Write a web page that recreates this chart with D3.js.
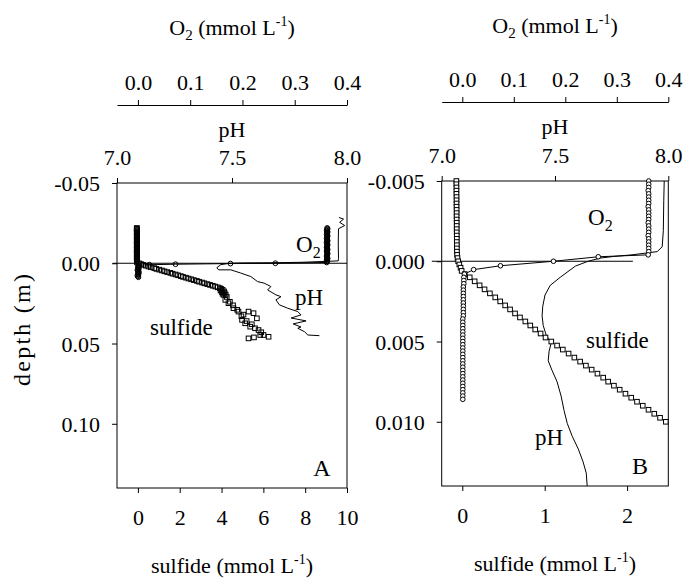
<!DOCTYPE html>
<html><head><meta charset="utf-8">
<script src="https://cdn.jsdelivr.net/npm/d3@7"></script>
<style>
body{margin:0;background:#fff}
text{font-family:"Liberation Serif","Times New Roman",serif;fill:#000}
</style>
</head><body>
<svg id="c" width="697" height="579"></svg>
<script>
// ---------------- tick labels / axes ----------------
const o2Ticks = [0, 0.1, 0.2, 0.3, 0.4];
const pHTicks = [7.0, 7.5, 8.0];
const aSulfTicks = [0, 2, 4, 6, 8, 10];
const bSulfTicks = [0, 1, 2];
const aDepthTicks = [-0.05, 0, 0.05, 0.10];
const bDepthTicks = [-0.005, 0, 0.005, 0.010];

// ---------------- Panel A data (depth in m) ----------------
const aO2Depth = [-0.0220,-0.0215,-0.0210,-0.0205,-0.0200,-0.0195,-0.0190,-0.0185,-0.0180,-0.0175,-0.0170,-0.0165,-0.0160,-0.0155,-0.0150,-0.0145,-0.0140,-0.0135,-0.0130,-0.0125,-0.0120,-0.0115,-0.0110,-0.0105,-0.0100,-0.0095,-0.0090,-0.0085,-0.0080,-0.0075,-0.0070,-0.0065,-0.0060,-0.0055,-0.0050,-0.0045,-0.0040,-0.0035,-0.0030,-0.0025,-0.0020,-0.0015,-0.0010,-0.0005,
  0.0000,0.0002,0.0006,0.0009,
  0.0012,0.0017,0.0022,0.0027,0.0032,0.0037,0.0042,0.0047,0.0052,0.0057,0.0062,0.0067,0.0072,0.0077,0.0082,0.0087];
const aO2 = [0.362,0.363,0.362,0.361,0.362,0.363,0.362,0.362,0.361,0.362,0.363,0.362,0.362,0.361,0.362,0.362,0.363,0.362,0.361,0.362,0.362,0.363,0.362,0.362,0.361,0.362,0.362,0.363,0.362,0.361,0.362,0.362,0.363,0.362,0.362,0.361,0.362,0.362,0.363,0.362,0.361,0.362,0.362,0.361,
  0.263,0.177,0.072,0.022,
  0.002,0.001,0.000,0.001,0.002,0.000,-0.001,0.001,0.000,0.002,0.001,0.000,0.001,-0.001,0.000,0.001];

const aSulfDepth = [-0.0220,-0.0215,-0.0210,-0.0205,-0.0200,-0.0195,-0.0190,-0.0185,-0.0180,-0.0175,-0.0170,-0.0165,-0.0160,-0.0155,-0.0150,-0.0145,-0.0140,-0.0135,-0.0130,-0.0125,-0.0120,-0.0115,-0.0110,-0.0105,-0.0100,-0.0095,-0.0090,-0.0085,-0.0080,-0.0075,-0.0070,-0.0065,-0.0060,-0.0055,-0.0050,-0.0045,-0.0040,-0.0035,-0.0030,-0.0025,-0.0020,-0.0015,-0.0010,-0.0005,
  0.0000,0.0005,0.0010,0.0015,0.0020,0.0025,0.0030,0.0035,0.0040,0.0045,0.0050,0.0055,0.0060,0.0065,0.0070,0.0075,0.0080,0.0085,0.0090,0.0095,0.0100,0.0105,0.0110,0.0115,0.0120,0.0125,0.0130,0.0135,0.0140,0.0145,0.0150,0.0155,0.0160,0.0165,0.0170,0.0175,0.0180,0.0185,0.0190,0.0195,
  0.0197,0.0210,0.0228,0.0240,0.0249,0.0262,0.0280,0.0290,0.0301,0.0301,0.0311,0.0320,0.0330,0.0343,0.0353,0.0360,0.0374,0.0380,0.0395,0.0405,0.0416,0.0430,0.0447,0.0447,0.0458,0.0468,0.0462];
const aSulf = [-0.05,-0.06,-0.05,-0.04,-0.05,-0.06,-0.05,-0.05,-0.04,-0.05,-0.06,-0.05,-0.05,-0.04,-0.05,-0.05,-0.06,-0.05,-0.04,-0.05,-0.05,-0.06,-0.05,-0.05,-0.04,-0.05,-0.05,-0.06,-0.05,-0.04,-0.05,-0.05,-0.06,-0.05,-0.05,-0.04,-0.05,-0.05,-0.06,-0.05,-0.04,-0.05,-0.05,-0.04,
  0.05,0.15,0.25,0.38,0.50,0.62,0.78,0.88,1.02,1.15,1.27,1.40,1.55,1.66,1.80,1.92,2.05,2.16,2.30,2.42,2.55,2.68,2.82,2.93,3.07,3.18,3.32,3.45,3.58,3.70,3.82,3.92,3.98,4.05,3.95,4.12,4.02,4.15,4.05,4.20,
  4.10,4.25,4.18,4.40,4.33,4.55,4.57,4.75,4.81,5.29,5.53,5.05,4.95,5.69,4.98,5.20,5.13,5.45,5.37,5.60,5.77,5.90,6.01,5.85,6.25,5.29,5.55];

const aPHDepth = [-0.0285,-0.0275,-0.0255,-0.0235,-0.0215,-0.0120,-0.0030,-0.0015,-0.0013,-0.0006,-0.0003,-0.0002,0.0000,0.0009,0.0028,0.0041,0.0041,0.0061,0.0083,0.0114,0.0124,0.0145,0.0166,0.0197,0.0208,0.0228,0.0259,0.0280,0.0301,0.0322,0.0341,0.0359,0.0378,0.0397,0.0405,0.0426,0.0447,0.0451];
const aPH = [7.965,7.985,7.968,7.990,7.963,7.962,7.963,7.962,7.931,7.800,7.670,7.540,7.486,7.451,7.434,7.442,7.495,7.538,7.582,7.611,7.640,7.669,7.655,7.691,7.713,7.691,7.706,7.742,7.786,7.800,7.757,7.822,7.766,7.800,7.786,7.815,7.830,7.880];

const aSurface = [-1.2, 10];   // sediment surface line (sulfide units)

// ---------------- Panel B data (depth in m) ----------------
const bO2Depth = [-0.0050,-0.0048,-0.0046,-0.0044,-0.0042,-0.0040,-0.0038,-0.0036,-0.0034,-0.0032,-0.0030,-0.0028,-0.0026,-0.0024,-0.0022,-0.0020,-0.0018,-0.0016,-0.0014,-0.0012,-0.0010,-0.0008,-0.0006,-0.0004,
  -0.00028,0.0000,0.00028,0.00052,
  0.0008,0.0010,0.0012,0.0014,0.0016,0.0018,0.0020,0.0022,0.0024,0.0026,0.0028,0.0030,0.0032,0.0034,0.0036,0.0038,0.0040,0.0042,0.0044,0.0046,0.0048,0.0050,0.0052,0.0054,0.0056,0.0058,0.0060,0.0062,0.0064,0.0066,0.0068,0.0070,0.0072,0.0074,0.0076,0.0078,0.0080,0.0082,0.0084,0.0086];
const bO2 = [0.362,0.362,0.362,0.361,0.362,0.362,0.362,0.362,0.361,0.362,0.362,0.362,0.362,0.361,0.362,0.362,0.362,0.361,0.362,0.362,0.362,0.362,0.362,0.361,
  0.264,0.177,0.074,0.022,
  0.004,0.003,0.003,0.003,0.002,0.002,0.002,0.002,0.002,0.002,0.002,0.002,0.002,0.002,0.001,0.001,0.001,0.001,0.001,0.001,0.001,0.001,0.001,0.001,0.001,0.001,0.001,0.001,0.001,0.001,0.001,0.001,0.001,0.001,0.001,0.001,0.001,0.001,0.001,0.001];

const bSulfDepth = [-0.0050,-0.0048,-0.0046,-0.0044,-0.0042,-0.0040,-0.0038,-0.0036,-0.0034,-0.0032,-0.0030,-0.0028,-0.0026,-0.0024,-0.0022,-0.0020,-0.0018,-0.0016,-0.0014,-0.0012,-0.0010,-0.0008,-0.0006,
  -0.0004,-0.0002,0.0000,0.0002,0.0004,0.0006,0.0008,
  0.00100,0.00125,0.00150,0.00175,0.00200,0.00225,0.00250,0.00275,0.00300,0.00325,0.00350,0.00375,0.00400,0.00425,0.00450,0.00475,0.00500,0.00525,0.00550,0.00575,0.00600,0.00625,0.00650,0.00675,0.00700,0.00725,0.00750,0.00775,0.00800,0.00825,0.00850,0.00875,0.00900,0.00925,0.00950,0.00975,0.01000];
const bSulf = [-0.072,-0.072,-0.071,-0.071,-0.071,-0.070,-0.070,-0.070,-0.070,-0.069,-0.069,-0.069,-0.069,-0.068,-0.068,-0.068,-0.068,-0.067,-0.067,-0.067,-0.066,-0.066,-0.065,
  -0.063,-0.058,-0.050,-0.036,-0.021,-0.008,0.030,
  0.09,0.15,0.21,0.27,0.335,0.40,0.46,0.52,0.58,0.64,0.70,0.765,0.825,0.885,0.95,1.01,1.08,1.15,1.22,1.29,1.36,1.43,1.50,1.57,1.64,1.71,1.77,1.84,1.91,1.98,2.05,2.12,2.19,2.26,2.33,2.40,2.47];

const bPHDepth = [-0.0050,-0.0038,-0.0019,-0.0009,-0.0006,-0.0004,-0.0003,-0.0002,0.0000,0.0003,0.0010,0.0015,0.0021,0.0028,0.0034,0.0040,0.0046,0.0051,0.0056,0.0062,0.0068,0.0075,0.0084,0.0093,0.0101,0.0109,0.0117,0.0125,0.0132,0.0140];
const bPH = [7.982,7.980,7.978,7.973,7.951,7.840,7.760,7.700,7.646,7.590,7.523,7.479,7.456,7.446,7.443,7.448,7.461,7.483,7.474,7.470,7.487,7.509,7.527,7.540,7.554,7.576,7.603,7.624,7.638,7.642];

const bSurface = [-0.37, 2.07];

// ---------------- drawing ----------------
const svg = d3.select("#c");
svg.append("rect").attr("width",697).attr("height",579).attr("fill","#fff");
const FONT = '"Liberation Serif","Times New Roman",serif';

function styleAxis(g){
  g.attr("font-family", FONT).attr("font-size", 22);
  g.selectAll("line").attr("stroke","#000").attr("stroke-width",1);
  g.selectAll("path.domain").attr("stroke","#000").attr("stroke-width",1);
  g.selectAll("text").attr("fill","#000");
}

function o2Title(g, cx, y){
  const t = g.append("text").attr("x",cx).attr("y",y).attr("text-anchor","middle").attr("font-size",22);
  t.append("tspan").text("O");
  t.append("tspan").attr("dy",5).attr("font-size",15).text("2");
  t.append("tspan").attr("dy",-5).text(" (mmol L");
  t.append("tspan").attr("dy",-9).attr("font-size",14).text("-1");
  t.append("tspan").attr("dy",9).text(")");
}
function sulfTitle(g, cx, y){
  const t = g.append("text").attr("x",cx).attr("y",y).attr("text-anchor","middle").attr("font-size",22);
  t.append("tspan").text("sulfide (mmol L");
  t.append("tspan").attr("dy",-9).attr("font-size",14).text("-1");
  t.append("tspan").attr("dy",9).text(")");
}
function o2Label(g, x, y){
  const t = g.append("text").attr("x",x).attr("y",y).attr("font-size",23);
  t.append("tspan").text("O");
  t.append("tspan").attr("dy",6).attr("font-size",16).text("2");
}

function panel(p){
  const g = svg.append("g");
  const xs = d3.scaleLinear().domain(p.sDom).range([p.L,p.R]);
  const xo = d3.scaleLinear().domain([-0.04,0.4]).range([p.L,p.R]);
  const xp = d3.scaleLinear().domain([7,8]).range([p.L,p.R]);
  const y  = d3.scaleLinear().domain(p.dDom).range([p.T,p.B]);

  const gO = g.append("g").attr("transform",`translate(0,${p.o2Y})`)
    .call(d3.axisTop(xo).tickValues(o2Ticks).tickFormat(d=>d.toFixed(1)).tickSize(5).tickSizeOuter(0).tickPadding(10));
  styleAxis(gO);
  const gP = g.append("g").attr("transform",`translate(0,${p.T})`)
    .call(d3.axisTop(xp).tickValues(pHTicks).tickFormat(d=>d.toFixed(1)).tickSize(5).tickSizeOuter(0).tickPadding(13));
  gP.select(".domain").remove(); styleAxis(gP);
  const gS = g.append("g").attr("transform",`translate(0,${p.B})`)
    .call(d3.axisBottom(xs).tickValues(p.sTicks).tickFormat(d=>String(d)).tickSize(5).tickSizeOuter(0));
  gS.select(".domain").remove(); styleAxis(gS);
  gS.selectAll("text").attr("y",37).attr("dy",0);
  const gD = g.append("g").attr("transform",`translate(${p.L},0)`)
    .call(d3.axisLeft(y).tickValues(p.dTicks).tickFormat(d=>d.toFixed(p.dDec)).tickSize(5).tickSizeOuter(0).tickPadding(p.dPad));
  gD.select(".domain").remove(); styleAxis(gD);
  gD.selectAll("text").attr("dy","0.34em");

  g.append("rect").attr("x",p.L).attr("y",p.T).attr("width",p.R-p.L).attr("height",p.B-p.T)
    .attr("fill","none").attr("stroke","#000").attr("stroke-width",1);

  g.append("line").attr("x1",xs(p.surface[0])).attr("x2",xs(p.surface[1]))
    .attr("y1",y(0)).attr("y2",y(0)).attr("stroke","#000").attr("stroke-width",1);

  const line = d3.line();
  g.append("path").attr("d", line(p.phD.map((d,i)=>[xp(p.ph[i]), y(d)])))
    .attr("fill","none").attr("stroke","#000").attr("stroke-width",1);
  g.append("path").attr("d", line(p.o2D.map((d,i)=>[xo(p.o2[i]), y(d)])))
    .attr("fill","none").attr("stroke","#000").attr("stroke-width",1);
  const sq = p.sq;
  g.append("g").selectAll("rect").data(p.sD.map((d,i)=>[p.s[i], d])).join("rect")
    .attr("x",d=>xs(d[0])-sq/2).attr("y",d=>y(d[1])-sq/2).attr("width",sq).attr("height",sq)
    .attr("fill",p.fill).attr("stroke","#000").attr("stroke-width",1);
  g.append("g").selectAll("circle").data(p.o2D.map((d,i)=>[p.o2[i], d])).join("circle")
    .attr("cx",d=>xo(d[0])).attr("cy",d=>y(d[1])).attr("r",p.r)
    .attr("fill",p.fill).attr("stroke","#000").attr("stroke-width",1);

  o2Title(g, p.cx, p.o2TitleY);
  g.append("text").attr("x",p.cx).attr("y",p.pHTitleY).attr("text-anchor","middle").attr("font-size",22).text("pH");
  sulfTitle(g, p.cx, p.B + 85);
  o2Label(g, p.o2Lab[0], p.o2Lab[1]);
  g.append("text").attr("x",p.sLab[0]).attr("y",p.sLab[1]).attr("font-size",23).text("sulfide");
  g.append("text").attr("x",p.pLab[0]).attr("y",p.pLab[1]).attr("font-size",23).text("pH");
  g.append("text").attr("x",p.letter[0]).attr("y",p.letter[1]).attr("font-size",24).attr("text-anchor","middle").text(p.name);
}

panel({name:"A", L:117, R:347, T:183, B:488, o2Y:105, cx:232, o2TitleY:35, pHTitleY:137,
  sDom:[-1,10], dDom:[-0.05,0.14], sTicks:aSulfTicks, dTicks:aDepthTicks, dDec:2, dPad:12,
  surface:aSurface, phD:aPHDepth, ph:aPH, o2D:aO2Depth, o2:aO2, sD:aSulfDepth, s:aSulf,
  sq:4.6, r:2.4, fill:"none", o2Lab:[296,252], sLab:[150,335], pLab:[295,305], letter:[322,476]});

panel({name:"B", L:441.7, R:668.3, T:181, B:486, o2Y:102, cx:555, o2TitleY:33, pHTitleY:134,
  sDom:[-0.25,2.5], dDom:[-0.005,0.014], sTicks:bSulfTicks, dTicks:bDepthTicks, dDec:3, dPad:12,
  surface:bSurface, phD:bPHDepth, ph:bPH, o2D:bO2Depth, o2:bO2, sD:bSulfDepth, s:bSulf,
  sq:4.6, r:2.3, fill:"#fff", o2Lab:[588,225], sLab:[586,348], pLab:[535,445], letter:[640,474]});

svg.append("text").attr("transform","translate(30,330) rotate(-90)").attr("text-anchor","middle")
  .attr("font-size",24).attr("textLength",112).attr("lengthAdjust","spacing").text("depth (m)");
</script>
</body></html>
